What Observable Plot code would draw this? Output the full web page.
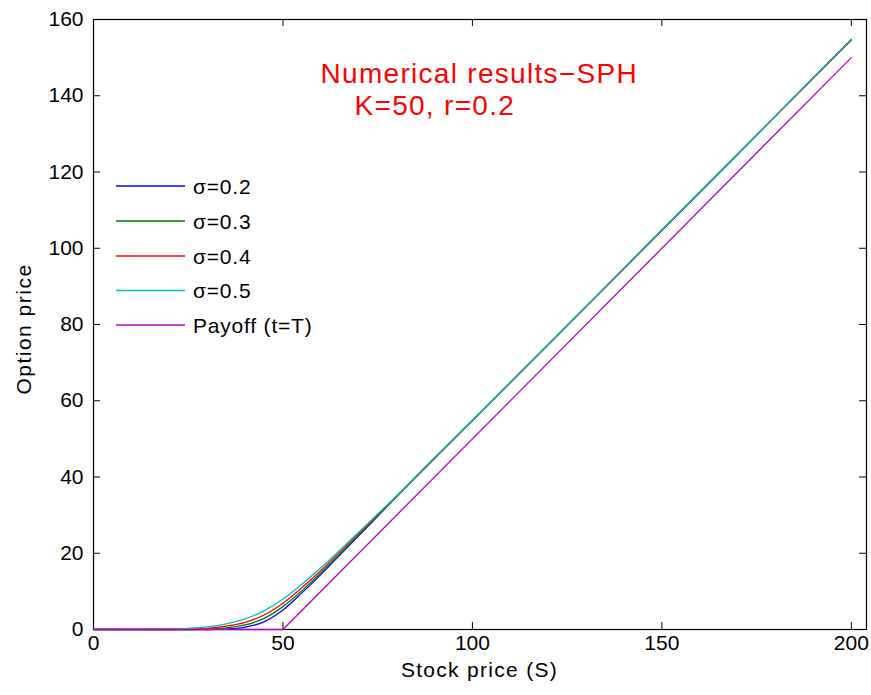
<!DOCTYPE html>
<html>
<head>
<meta charset="utf-8">
<script src="https://cdn.jsdelivr.net/npm/d3@7"></script>
<script src="https://cdn.jsdelivr.net/npm/@observablehq/plot@0.6"></script>
<style>
  body { margin: 0; background: #fff; }
  #chart { position: relative; width: 871px; height: 695px; background: #fff; }
  #chart > svg { display: block; }
  #overlay { position: absolute; left: 0; top: 0; pointer-events: none; }
</style>
</head>
<body>
<div id="chart"></div>
<script>
// ---- data ----
const stockPrice = [0, 10, 20, 25, 30, 35, 40, 45, 50, 55, 60, 65, 70, 75, 80, 90, 100, 125, 150, 175, 200];
const priceSigma02 = [0, 0, 0, 0, 0, 0.1, 0.6, 2.0, 5.1, 9.6, 14.4, 19.5, 24.6, 29.7, 34.9, 44.9, 54.8, 79.7, 104.7, 129.7, 154.7];
const priceSigma03 = [0, 0, 0, 0, 0.1, 0.4, 1.2, 2.9, 6.0, 10.2, 14.9, 19.8, 24.8, 29.9, 34.9, 44.9, 54.8, 79.7, 104.7, 129.7, 154.7];
const priceSigma04 = [0, 0, 0, 0.1, 0.3, 0.9, 1.9, 3.8, 6.9, 11.0, 15.5, 20.3, 25.2, 30.1, 35.0, 45.0, 54.9, 79.8, 104.7, 129.7, 154.7];
const priceSigma05 = [0, 0, 0.05, 0.3, 0.7, 1.5, 2.8, 4.9, 8.0, 11.9, 16.2, 20.8, 25.5, 30.3, 35.1, 45.1, 54.9, 79.8, 104.8, 129.7, 154.8];
const payoffStock = [0, 50, 200];
const payoffValue = [0, 0, 150];
const seriesNames = ["σ=0.2", "σ=0.3", "σ=0.4", "σ=0.5", "Payoff (t=T)"];
const seriesColors = ["#0000ff", "#008000", "#ff0000", "#00bfbf", "#bf00bf"];
const xTicks = [0, 50, 100, 150, 200];
const yTicks = [0, 20, 40, 60, 80, 100, 120, 140, 160];
const titleLines = ["Numerical results\u2212SPH", "K=50, r=0.2"];
const xLabel = "Stock price (S)";
const yLabel = "Option price";

// ---- tables built from the arrays ----
const sigmaSeries = [priceSigma02, priceSigma03, priceSigma04, priceSigma05];
const curveRows = sigmaSeries.flatMap((vals, i) =>
  stockPrice.map((s, j) => ({ S: s, V: vals[j], series: seriesNames[i] })));
const payoffRows = payoffStock.map((s, j) => ({ S: s, V: payoffValue[j] }));

const W = 871, H = 695;
const mL = 93, mR = 5, mT = 19, mB = 66;
const frameW = W - mL - mR, frameH = H - mT - mB;
const tick = 7;
const font = "'Liberation Sans', Arial, Helvetica, sans-serif";

const plot = Plot.plot({
  width: W, height: H,
  marginLeft: mL, marginRight: mR, marginTop: mT, marginBottom: mB,
  style: { fontFamily: font, fontSize: "21px", color: "#000", background: "#fff", overflow: "visible" },
  x: { domain: [0, 204], ticks: xTicks, tickFormat: d3.format("d"), tickSize: 0, tickPadding: 6, label: null },
  y: { domain: [0, 160], ticks: yTicks, tickFormat: d3.format("d"), tickSize: 0, tickPadding: 10, label: null },
  color: { domain: seriesNames, range: seriesColors },
  marks: [
    Plot.frame({ stroke: "#000", strokeWidth: 1.2 }),
    Plot.tickX(xTicks, { x: d => d, stroke: "#000", strokeWidth: 1, insetTop: frameH - tick }),
    Plot.tickX(xTicks, { x: d => d, stroke: "#000", strokeWidth: 1, insetBottom: frameH - tick }),
    Plot.tickY(yTicks, { y: d => d, stroke: "#000", strokeWidth: 1, insetRight: frameW - tick }),
    Plot.tickY(yTicks, { y: d => d, stroke: "#000", strokeWidth: 1, insetLeft: frameW - tick }),
    Plot.line(curveRows, { x: "S", y: "V", z: "series", stroke: "series", strokeWidth: 1.3, curve: "monotone-x" }),
    Plot.line(payoffRows, { x: "S", y: "V", stroke: seriesColors[4], strokeWidth: 1.3 }),
    Plot.text([titleLines[0]], { text: d => d, frameAnchor: "top-left", textAnchor: "start", dx: 227, dy: 44,
      fill: "#ff0000", fontSize: 28 }),
    Plot.text([titleLines[1]], { text: d => d, frameAnchor: "top-left", textAnchor: "start", dx: 261, dy: 76,
      fill: "#ff0000", fontSize: 28 })
  ]
});
document.getElementById("chart").appendChild(plot);

// letter spacing for the title lines
d3.select(plot).selectAll("text").filter(function() {
  return this.textContent === titleLines[0] || this.textContent === titleLines[1];
}).style("letter-spacing", "1.3px");

// ---- overlay: axis labels and legend (inside the axes, upper left, no box) ----
const ov = d3.select("#chart").append("svg")
  .attr("id", "overlay").attr("width", W).attr("height", H)
  .style("font-family", font).style("font-size", "21px");

ov.append("text").attr("x", (mL + W - mR) / 2).attr("y", 677)
  .attr("text-anchor", "middle").style("letter-spacing", "1.3px").attr("fill", "#000").text(xLabel);
ov.append("text").attr("transform", `translate(31,${mT + frameH / 2 + 5}) rotate(-90)`)
  .attr("text-anchor", "middle").style("letter-spacing", "1.5px").attr("fill", "#000").text(yLabel);

const legendRowY = [186, 221, 256, 290.5, 325];
seriesNames.forEach((name, i) => {
  const g = ov.append("g").attr("transform", `translate(0,${legendRowY[i]})`);
  g.append("line").attr("x1", 116).attr("x2", 185).attr("y1", 0).attr("y2", 0)
    .attr("stroke", seriesColors[i]).attr("stroke-width", 1.3);
  g.append("text").attr("x", 193).attr("y", 0).attr("dy", "0.36em")
    .style("letter-spacing", "0.8px").attr("fill", "#000").text(name);
});
</script>
</body>
</html>
